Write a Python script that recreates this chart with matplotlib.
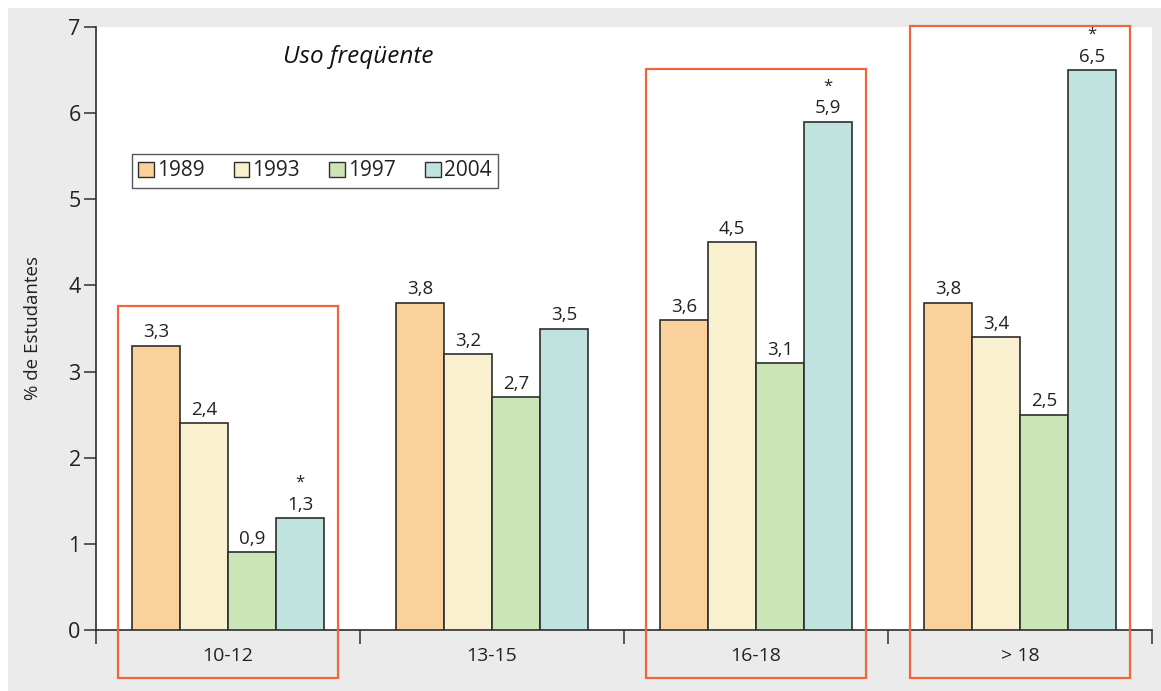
import matplotlib
matplotlib.use("Agg")
import matplotlib.pyplot as plt
from matplotlib.patches import Rectangle, Patch

categories = ["10-12", "13-15", "16-18", "> 18"]
years = ["1989", "1993", "1997", "2004"]
v1989 = [3.3, 3.8, 3.6, 3.8]
v1993 = [2.4, 3.2, 4.5, 3.4]
v1997 = [0.9, 2.7, 3.1, 2.5]
v2004 = [1.3, 3.5, 5.9, 6.5]
significant_2004 = [True, False, True, True]
boxed_groups = [0, 2, 3]
box_tops = [3.76, 6.51, 7.01]
title = "Uso freqüente"
ylabel = "% de Estudantes"
yticks = [0, 1, 2, 3, 4, 5, 6, 7]

series = [v1989, v1993, v1997, v2004]
colors = ["#fad09b", "#f9f0cf", "#cbe4b8", "#c1e3e0"]
edge = "#2e2e2e"
red = "#f0653a"
gray = "#eaebea"
txt = "#222222"

plt.rcParams['font.family'] = ['Open Sans', 'DejaVu Sans']

W, H = 1161, 691
fig = plt.figure(figsize=(W / 100, H / 100), dpi=100, facecolor="white")
fig.patches.append(Rectangle((8 / W, 0), 1 - 8 / W, 1 - 8 / H, transform=fig.transFigure,
                             facecolor=gray, edgecolor="none", zorder=-10))

x0, x1 = 96, 1152
y0, y1 = 630, 27
ax = fig.add_axes([x0 / W, 1 - y0 / H, (x1 - x0) / W, (y0 - y1) / H])
ax.set_facecolor("white")
ax.set_xlim(0, 4)
ax.set_ylim(0, 7)

bw = 48 / 264
for i, vals in enumerate(series):
    for g, v in enumerate(vals):
        xc = g + 0.5 + (i - 1.5) * bw
        ax.bar(xc, v, width=bw, color=colors[i], edgecolor=edge, linewidth=1.2, zorder=3)
        lab = f"{v:.1f}".replace(".", ",")
        ax.text(xc, v + 0.05, lab, ha="center", va="bottom", fontsize=13.5, color=txt, zorder=4)
        if i == 3 and significant_2004[g]:
            ax.text(xc, v + 0.41, "*", ha="center", va="center", fontsize=12, color=txt, zorder=4)

for g, top in zip(boxed_groups, box_tops):
    left = g + 0.5 - 0.4185
    bottom = -0.557
    ax.add_patch(Rectangle((left, bottom), 0.837, top - bottom, facecolor="none",
                           edgecolor=red, linewidth=1.6, clip_on=False, zorder=5))

for s in ["top", "right"]:
    ax.spines[s].set_visible(False)
ax.spines["left"].set_bounds(0, 7)
ax.spines["left"].set_color(edge)
ax.spines["bottom"].set_color(edge)
ax.spines["left"].set_linewidth(1.2)
ax.spines["bottom"].set_linewidth(1.2)

ax.set_yticks(yticks)
ax.set_yticklabels([str(t) for t in yticks], fontsize=15.5, color=txt)
ax.tick_params(axis="y", length=9, width=1.1, color=edge, pad=2)

ax.set_xticks([0, 1, 2, 3, 4])
ax.set_xticklabels([])
ax.tick_params(axis="x", which="major", length=10, width=1.1, color=edge, direction="out")
ax.set_xticks([0.5, 1.5, 2.5, 3.5], minor=True)
ax.set_xticklabels(categories, minor=True, fontsize=14, color=txt)
ax.tick_params(axis="x", which="minor", length=0, pad=12)

ax.set_ylabel(ylabel, fontsize=13.5, color=txt, labelpad=19)

ax.text(358 / W, 1 - 57 / H, title, transform=fig.transFigure, ha="center", va="center",
        fontsize=17.5, style="italic", color="#111111")

handles = [Patch(facecolor=c, edgecolor=edge, linewidth=1.0) for c in colors]
leg = ax.legend(handles, years, loc="center left", bbox_to_anchor=(132 / W, 1 - 171 / H),
                bbox_transform=fig.transFigure, ncol=4, fontsize=15, frameon=True,
                fancybox=False, handlelength=0.75, handleheight=0.75, handletextpad=0.15,
                columnspacing=1.4, borderpad=0.3, borderaxespad=0)
leg.get_frame().set_edgecolor(edge)
leg.get_frame().set_linewidth(1.0)
for t in leg.get_texts():
    t.set_color(txt)

fig.savefig("out.png", dpi=100, facecolor="white")
